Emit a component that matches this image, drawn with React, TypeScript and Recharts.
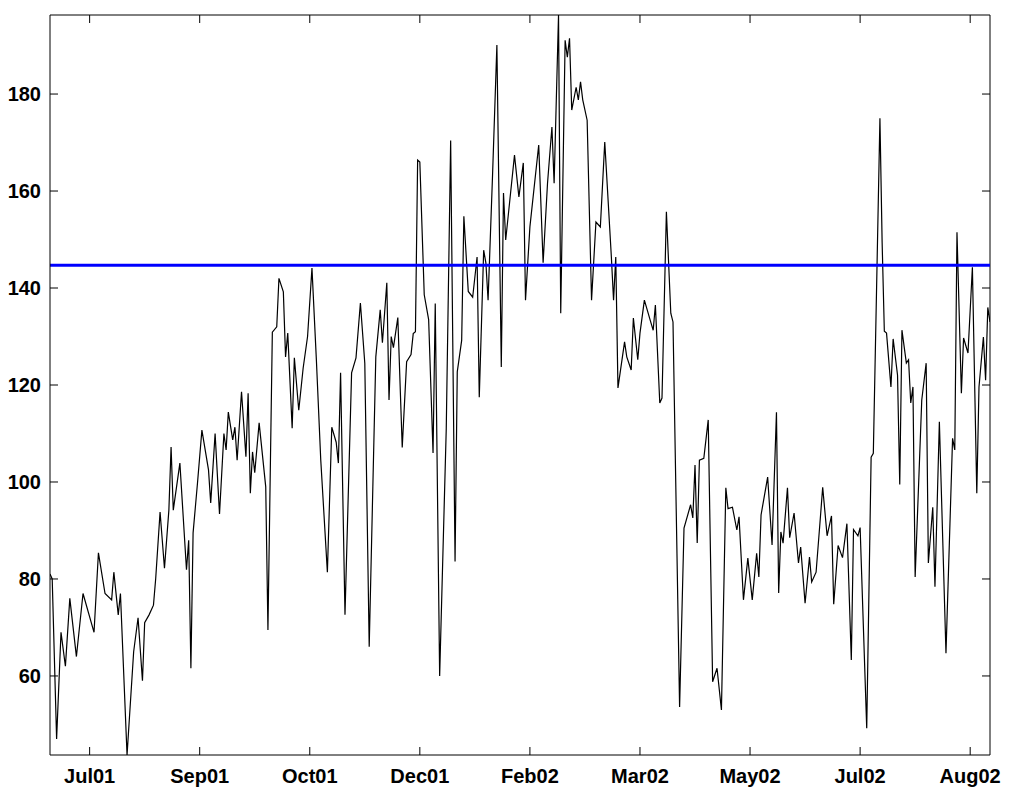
import React from "react";
import {
  LineChart,
  Line,
  XAxis,
  YAxis,
  ReferenceLine,
} from "recharts";

// day index (from 2 Jul 2001) and reading at that day
const days = [
  0, 1, 3, 5, 7, 9, 12, 15, 20, 22, 25, 28, 29, 31, 32, 35, 38, 40, 42, 43,
  45, 47, 48, 50, 52, 54, 55, 56, 59, 62, 63, 64, 65, 67, 69, 72, 73, 75, 77, 79,
  80, 81, 83, 84, 85, 87, 89, 90, 91, 92, 93, 95, 98, 99, 101, 103, 104, 106, 107, 108,
  110, 111, 113, 115, 117, 119, 121, 123, 126, 128, 130, 131, 132, 134, 137, 139, 141, 143, 145, 148,
  150, 151, 153, 154, 155, 156, 158, 160, 162, 164, 165, 166, 167, 168, 170, 172, 174, 175, 177, 180,
  182, 184, 185, 187, 188, 190, 192, 194, 195, 197, 198, 199, 201, 203, 205, 206, 207, 211, 213, 215,
  216, 218, 222, 224, 226, 228, 229, 231, 232, 234, 235, 236, 237, 239, 240, 241, 242, 244, 246, 248,
  250, 252, 255, 256, 257, 258, 261, 262, 264, 265, 267, 268, 270, 273, 274, 275, 277, 278, 280, 282,
  283, 286, 288, 291, 292, 293, 294, 295, 297, 299, 301, 303, 305, 307, 308, 310, 312, 313, 315, 317,
  319, 321, 322, 323, 326, 328, 330, 331, 332, 333, 335, 336, 338, 340, 341, 343, 345, 346, 348, 350,
  351, 353, 355, 356, 358, 360, 362, 364, 365, 367, 368, 371, 373, 374, 377, 378, 379, 380, 382, 383,
  385, 386, 387, 389, 390, 391, 392, 393, 396, 398, 399, 401, 402, 404, 407, 410, 411, 412, 414, 415,
  417, 419, 421, 422, 424, 425, 426, 427,
];

const values = [
  81, 80, 47, 69, 62, 76, 64, 77, 69, 85.4, 77, 75.7, 81.4, 72.6, 77, 43.7, 65, 72, 59, 71,
  72.6, 74.6, 80, 93.8, 82.2, 94.2, 107.2, 94.2, 103.9, 81.9, 88, 61.6, 89.5, 99.8, 110.7, 102.5, 95.7, 110, 93.4, 110,
  106.6, 114.4, 108.7, 111.3, 104.5, 118.6, 105.2, 118.3, 97.7, 106.2, 101.9, 112.2, 99, 69.5, 130.9, 132, 142, 139.2, 125.8, 130.7,
  111.1, 125.6, 114.8, 123.5, 130, 144.1, 125.2, 104.5, 81.4, 111.3, 108.2, 103.9, 122.5, 72.6, 122.5, 125.6, 136.9, 124.5, 66, 125.8,
  135.5, 128.7, 141.1, 116.9, 130, 127.7, 133.9, 107.1, 124.8, 126.3, 130.6, 131, 166.4, 166, 138.6, 133.5, 106, 136.8, 60, 111,
  170.4, 83.6, 122.7, 129.2, 154.8, 139.3, 138.1, 146.4, 117.5, 147.8, 145.2, 137.5, 162.9, 190.1, 123.7, 159.6, 149.9, 167.4, 158.8, 165.8,
  137.5, 152.6, 169.5, 145.2, 161.6, 173.2, 161.6, 196.3, 134.8, 191.1, 187.6, 191.5, 176.7, 181.4, 178.8, 182.5, 178.8, 174.6, 137.5, 153.6,
  152.6, 170.1, 146.4, 137.5, 146.4, 119.4, 128.9, 125.8, 123.1, 133.8, 125.2, 130.7, 137.5, 132.8, 131.3, 136.5, 116.3, 117.3, 155.7, 134.8,
  133, 53.6, 90.5, 95.3, 92.6, 103.5, 87.4, 104.5, 104.9, 112.8, 58.8, 61.6, 53, 98.8, 94.5, 94.8, 90.1, 92.8, 75.7, 84.3,
  75.7, 85.3, 80.4, 93.2, 101, 87, 114.4, 77.1, 89.7, 87.4, 98.8, 88.5, 93.6, 83.3, 86.6, 75, 84.5, 79.4, 81.4, 93,
  98.9, 88.9, 93, 74.8, 86.9, 84.4, 91.4, 63.3, 90.2, 88.9, 90.6, 49.2, 105.1, 105.9, 175, 149.4, 131.1, 130.7, 119.6, 129.5,
  122, 99.5, 131.3, 124.5, 125.2, 116.3, 119.6, 80.4, 116.9, 124.5, 83.3, 94.8, 78.4, 112.4, 64.7, 109, 106.6, 151.5, 118.3, 129.7,
  126.6, 144.3, 97.7, 119.6, 129.9, 121, 136, 133,
];

const tickDays = [18, 68, 118, 168, 218, 268, 318, 368, 418];
const tickLabels = ["Jul01", "Sep01", "Oct01", "Dec01", "Feb02", "Mar02", "May02", "Jul02", "Aug02"];
const yTicks = [60, 80, 100, 120, 140, 160, 180];
const threshold = 144.7;

const data = days.map((d, i) => ({ day: d, value: values[i] }));
const yMin = Math.min(...values);
const yMax = Math.max(...values);
const xDomain = [days[0], days[days.length - 1]];

// chart geometry (matlab-like box with inward ticks on all four sides)
const CHART_W = 1000;
const CHART_H = 790;
const MARGIN = { top: 7, right: 18, bottom: 0, left: 0 };
const Y_AXIS_W = 42;
const X_AXIS_H = 43;
const PLOT_W = CHART_W - MARGIN.left - MARGIN.right - Y_AXIS_W;
const PLOT_H = CHART_H - MARGIN.top - MARGIN.bottom - X_AXIS_H;
const TICK = 8;

const labelFont = {
  fontFamily: "'Liberation Sans', Arial, Helvetica, sans-serif",
  fontWeight: 700,
  fontSize: 20,
  fill: "#000",
};

function BottomTick({ x, y, payload }: any) {
  const label = tickLabels[tickDays.indexOf(payload.value)];
  return (
    <g>
      <line x1={x} y1={y} x2={x} y2={y - TICK} stroke="#000" />
      <line x1={x} y1={y - PLOT_H} x2={x} y2={y - PLOT_H + TICK} stroke="#000" />
      <text x={x} y={y + 28} textAnchor="middle" {...labelFont}>
        {label}
      </text>
    </g>
  );
}

function LeftTick({ x, y, payload }: any) {
  return (
    <g>
      <line x1={x} y1={y} x2={x + TICK} y2={y} stroke="#000" />
      <line x1={x + PLOT_W} y1={y} x2={x + PLOT_W - TICK} y2={y} stroke="#000" />
      <text x={x - 9} y={y + 7} textAnchor="end" {...labelFont}>
        {payload.value}
      </text>
    </g>
  );
}

export default function App() {
  return (
    <div style={{ width: CHART_W, height: CHART_H, background: "#fff" }}>
      <LineChart width={CHART_W} height={CHART_H} data={data} margin={MARGIN}>
        <XAxis
          dataKey="day"
          type="number"
          domain={xDomain}
          allowDataOverflow
          ticks={tickDays}
          interval={0}
          height={X_AXIS_H}
          tickSize={0}
          tickMargin={0}
          tickLine={false}
          axisLine={{ stroke: "#000" }}
          tick={<BottomTick />}
        />
        <YAxis
          type="number"
          domain={[yMin, yMax]}
          allowDataOverflow
          ticks={yTicks}
          interval={0}
          width={Y_AXIS_W}
          tickSize={0}
          tickMargin={0}
          tickLine={false}
          axisLine={{ stroke: "#000" }}
          tick={<LeftTick />}
        />
        <ReferenceLine y={yMax} stroke="#000" strokeWidth={1} />
        <ReferenceLine x={xDomain[1]} stroke="#000" strokeWidth={1} />
        <Line
          type="linear"
          dataKey="value"
          stroke="#000"
          strokeWidth={1.2}
          dot={false}
          isAnimationActive={false}
        />
        <ReferenceLine y={threshold} stroke="#0000ff" strokeWidth={3} />
      </LineChart>
    </div>
  );
}
